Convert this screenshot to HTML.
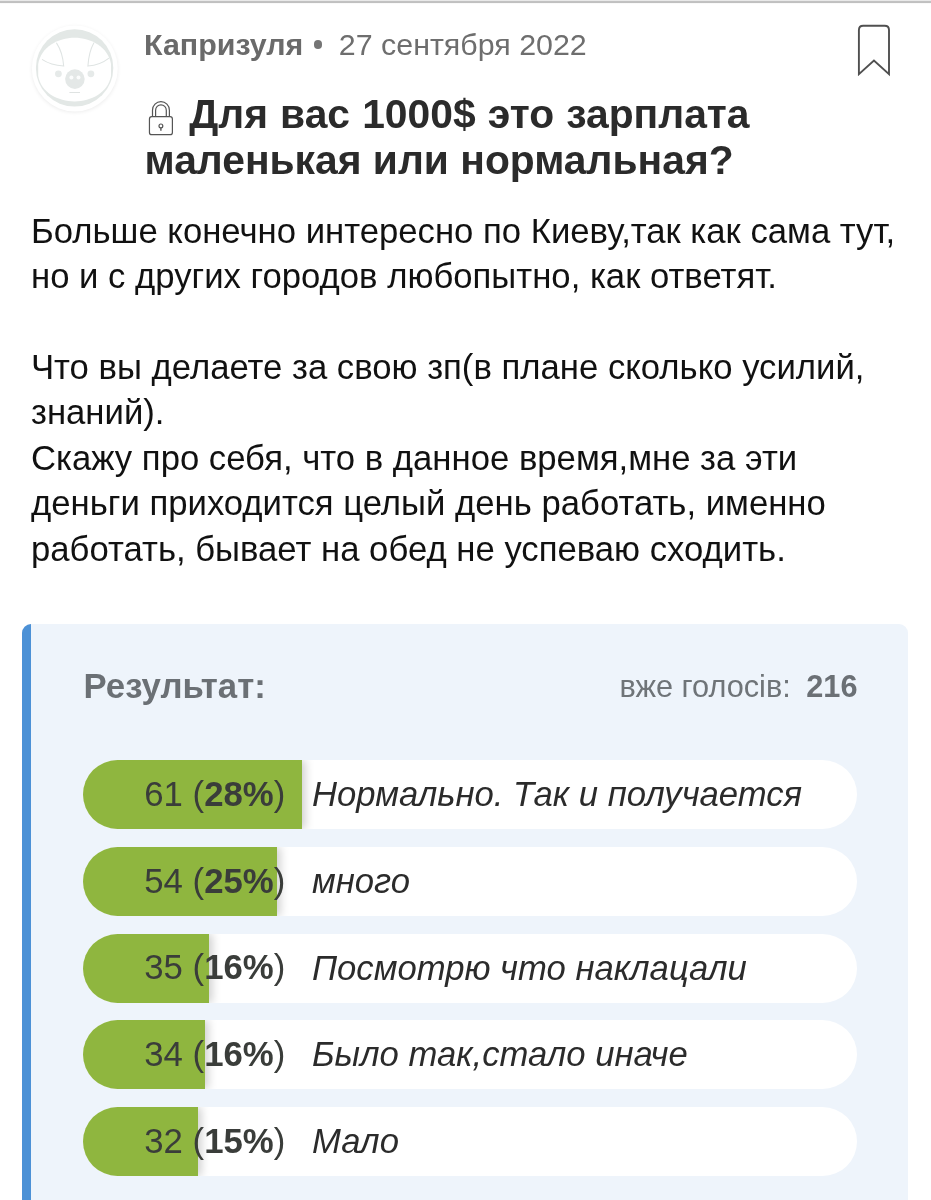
<!DOCTYPE html>
<html lang="ru">
<head>
<meta charset="utf-8">
<title>Для вас 1000$ это зарплата маленькая или нормальная?</title>
<style>
html,body{margin:0;padding:0;background:#fff;}
body{width:931px;height:1200px;position:relative;overflow:hidden;font-family:"Liberation Sans",Arial,Helvetica,sans-serif;-webkit-font-smoothing:antialiased;}
.topline{position:absolute;left:0;top:0;width:931px;height:4px;background:linear-gradient(to bottom,#e9e9e9 0,#e9e9e9 1px,#c3c3c3 1px,#bfbfbf 3px,#f4f4f4 3px,#fff 4px);}
.avatar{position:absolute;left:20px;top:10px;width:110px;height:115px;}
.meta{position:absolute;left:144px;top:26px;height:36px;line-height:36px;font-size:30.4px;color:#6a6a6a;white-space:nowrap;}
.meta b{font-weight:bold;color:#6a6a6a;}
.meta .dot{display:inline-block;width:8.6px;height:8.6px;border-radius:50%;background:#757575;vertical-align:middle;margin:0 16.7px 5px 10.2px;}
.meta .date{color:#6e6e6e;}
.bookmark{position:absolute;left:845px;top:15px;width:60px;height:70px;}
.title{position:absolute;left:144.5px;top:92px;width:700px;font-size:40.8px;line-height:45.8px;font-weight:bold;color:#2b2b2b;margin:0;}
.lock{position:absolute;left:140px;top:92px;width:50px;height:50px;}
.text{position:absolute;left:31px;top:208.6px;width:880px;font-size:34.7px;line-height:45.45px;color:#111;margin:0;}
.poll{position:absolute;left:22px;top:624px;width:877px;height:600px;background:#eef4fb;border-left:9px solid #4c91d6;border-radius:9px 9px 0 0;}
.res{position:absolute;left:52.5px;top:42.2px;font-size:34.75px;line-height:40px;font-weight:bold;color:#6b7075;white-space:nowrap;}
.votes{position:absolute;right:50.5px;top:43.4px;font-size:30.7px;line-height:40px;color:#6f7478;white-space:nowrap;}
.votes b{color:#6b7075;margin-left:7px;}
.bar{position:absolute;left:52px;width:774px;height:69px;border-radius:35px;background:#fff;overflow:hidden;}
.bar .fill{position:absolute;left:0;top:0;height:69px;background:#8fb63f;box-shadow:3px 0 9px rgba(0,0,0,.2);}
.bar .num{position:absolute;left:0;top:-0.3px;width:202.3px;height:69px;line-height:69px;text-align:right;font-size:34.75px;color:#3a3d3a;white-space:nowrap;}
.bar .num b{font-weight:bold;}
.bar .lbl{position:absolute;left:229px;top:0;height:69px;line-height:69px;font-size:34.65px;font-style:italic;color:#2b2b2b;white-space:nowrap;}
</style>
</head>
<body>
<div class="topline"></div>

<svg class="avatar" viewBox="20 10 110 115">
  <defs>
    <filter id="avsh" x="-20%" y="-20%" width="140%" height="140%"><feGaussianBlur stdDeviation="2.2"/></filter>
    <clipPath id="avclip"><circle cx="74.6" cy="67.9" r="38.7"/></clipPath>
  </defs>
  <circle cx="74.8" cy="69.5" r="42.5" fill="#000" opacity="0.09" filter="url(#avsh)"/>
  <circle cx="74.8" cy="68.4" r="43" fill="#fff"/>
  <circle cx="74.6" cy="67.9" r="38.7" fill="#e3e8e6"/>
  <g clip-path="url(#avclip)">
    <path d="M38.2 64 C41 47 58 37.8 74.6 37.8 C91 37.8 108 47 111 64 L111 76 C108 92.5 91 101.4 74.6 101.4 C58 101.4 41 92.5 38.2 76 Z" fill="#fff"/>
  </g>
  <path d="M56.6 43.1 C60.5 49 63 57 63.7 66.1 C55 65.4 47.5 63 42.4 59.6" fill="none" stroke="#dfe4e3" stroke-width="1.05" stroke-linecap="round"/>
  <path d="M93.8 43.1 C90.5 49 88.5 57 87.9 66.1 C96 65.4 103.5 62.5 108.6 58.4" fill="none" stroke="#dfe4e3" stroke-width="1.05" stroke-linecap="round"/>
  <circle cx="58.4" cy="73.8" r="3.4" fill="#e6eae9"/>
  <circle cx="90.9" cy="73.8" r="3.4" fill="#e6eae9"/>
  <circle cx="74.9" cy="79.1" r="9.8" fill="#e4e8e7"/>
  <circle cx="71.4" cy="77.4" r="2" fill="#fbfcfc"/>
  <circle cx="78.5" cy="77.4" r="2" fill="#fbfcfc"/>
  <path d="M69.8 92.5 H79.6" stroke="#dfe3e2" stroke-width="1" stroke-linecap="round"/>
</svg>

<div class="meta"><b>Капризуля</b><span class="dot"></span><span class="date">27 сентября 2022</span></div>

<svg class="bookmark" viewBox="845 15 60 70">
  <path d="M858.9 74.1 V30 Q858.9 25.7 863.2 25.7 H884.7 Q889 25.7 889 30 V74.1 L873.95 60.5 Z" fill="none" stroke="#505050" stroke-width="1.9" stroke-linejoin="miter"/>
</svg>

<svg class="lock" viewBox="140 92 50 50">
  <g fill="none" stroke="#555" stroke-width="1.2">
    <rect x="149.45" y="116.7" width="22.95" height="18" rx="2.3"/>
    <path d="M152.5 116.7 V110.15 A8.45 8.45 0 0 1 169.4 110.15 V116.7"/>
    <path d="M155.6 116.7 V110.15 A5.35 5.35 0 0 1 166.3 110.15 V116.7"/>
    <circle cx="160.9" cy="125.9" r="1.9"/>
    <path d="M160.9 127.8 V130.8" stroke-width="1.4"/>
  </g>
</svg>

<h1 class="title"><span style="display:inline-block;width:44.7px"></span><span style="word-spacing:0.8px">Для вас 1000$ это зарплата</span><br>маленькая или нормальная?</h1>

<p class="text">Больше конечно интересно по Киеву,так как сама тут,<br>но и с других городов любопытно, как ответят.<br><br>Что вы делаете за свою зп(в плане сколько усилий,<br>знаний).<br>Скажу про себя, что в данное время,мне за эти<br>деньги приходится целый день работать, именно<br>работать, бывает на обед не успеваю сходить.</p>

<div class="poll">
  <div class="res">Результат:</div>
  <div class="votes">вже голосів: <b>216</b></div>

  <div class="bar" style="top:136.3px"><div class="fill" style="width:219px"></div><div class="num">61 (<b>28%</b>)</div><div class="lbl">Нормально. Так и получается</div></div>
  <div class="bar" style="top:223px"><div class="fill" style="width:194px"></div><div class="num">54 (<b>25%</b>)</div><div class="lbl">много</div></div>
  <div class="bar" style="top:309.7px"><div class="fill" style="width:126px"></div><div class="num">35 (<b>16%</b>)</div><div class="lbl">Посмотрю что наклацали</div></div>
  <div class="bar" style="top:396.4px"><div class="fill" style="width:122px"></div><div class="num">34 (<b>16%</b>)</div><div class="lbl">Было так,стало иначе</div></div>
  <div class="bar" style="top:483.1px"><div class="fill" style="width:115px"></div><div class="num">32 (<b>15%</b>)</div><div class="lbl">Мало</div></div>
</div>
</body>
</html>
